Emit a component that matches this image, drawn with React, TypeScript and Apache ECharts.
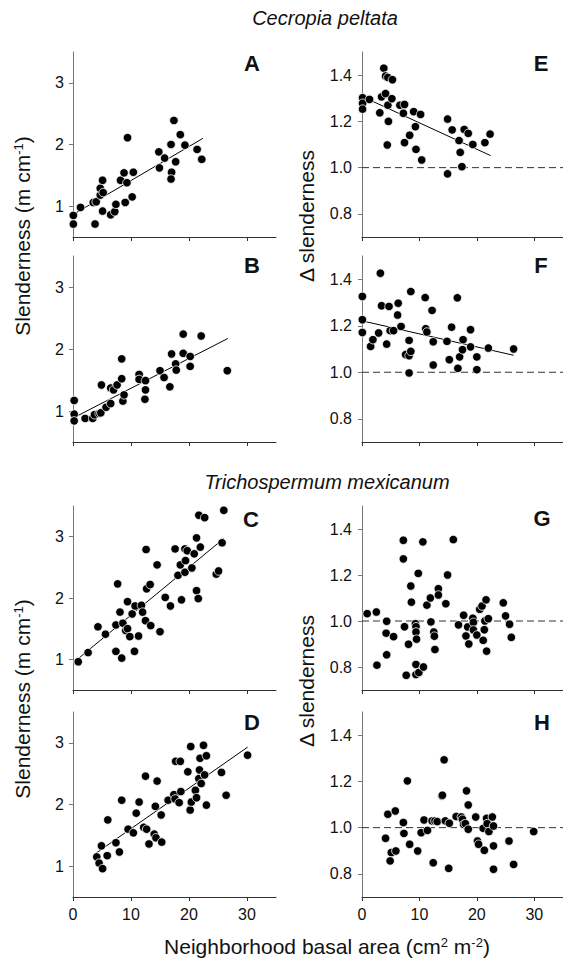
import React, { useEffect, useRef } from 'react';
import * as echarts from 'echarts';

// ---- data ----
const ptsA: number[][] = [
  [0.06, 0.85], [0.06, 0.71], [1.3, 0.98], [3.5, 1.06], [3.8, 0.71], [4.0, 1.07], [4.7, 1.18], [4.7, 1.29],
  [5.1, 1.42], [5.2, 1.22], [5.1, 0.92], [6.5, 0.86], [7.2, 0.91], [7.4, 1.03], [8.2, 1.42], [8.8, 1.54],
  [9.3, 1.38], [9.0, 1.06], [9.4, 2.11], [10.2, 1.15], [10.4, 1.55], [14.8, 1.88], [14.9, 1.62], [15.8, 1.78],
  [16.9, 2.0], [17.0, 1.55], [16.9, 1.44], [17.4, 2.39], [17.7, 1.72], [18.5, 2.16], [19.3, 1.99], [21.4, 1.92],
  [22.2, 1.76],
];
const ptsB: number[][] = [
  [0.2, 1.17], [0.2, 0.95], [0.2, 0.84], [2.1, 0.88], [3.4, 0.88], [3.7, 0.94], [4.5, 0.96], [4.8, 0.97],
  [4.9, 1.42], [5.7, 1.06], [6.5, 1.12], [6.5, 1.37], [7.0, 1.34], [7.6, 1.42], [8.4, 1.84], [8.4, 1.52],
  [8.6, 1.16], [8.8, 1.26], [11.4, 1.59], [11.4, 1.51], [12.5, 1.49], [12.5, 1.34], [12.4, 1.19], [15.0, 1.65],
  [15.7, 1.54], [16.7, 1.39], [17.0, 1.92], [17.7, 1.76], [17.8, 1.66], [19.0, 2.24], [19.0, 1.93], [20.2, 1.88],
  [20.2, 1.72], [22.1, 2.21], [26.6, 1.65],
];
const ptsC: number[][] = [
  [0.9, 0.96], [2.6, 1.11], [4.3, 1.53], [5.6, 1.41], [7.4, 1.13], [7.4, 1.56], [7.7, 2.23], [8.1, 1.77],
  [8.4, 1.02], [8.6, 1.59], [9.1, 1.47], [9.4, 1.5], [9.4, 1.94], [9.8, 1.37], [10.2, 1.74], [10.6, 1.13],
  [10.7, 1.87], [11.3, 1.38], [11.8, 1.88], [12.0, 1.77], [12.5, 1.63], [12.6, 2.79], [12.7, 2.15], [13.3, 2.22],
  [13.4, 1.55], [14.5, 2.54], [15.0, 1.45], [15.9, 2.01], [16.8, 1.87], [17.6, 2.8], [18.1, 2.37], [18.5, 2.54],
  [18.7, 1.97], [19.3, 2.8], [19.4, 2.61], [19.3, 2.42], [19.7, 2.77], [20.5, 2.49], [20.9, 2.72], [21.3, 2.98],
  [21.3, 2.12], [21.6, 1.99], [21.7, 3.35], [21.95, 2.83], [22.7, 3.31], [24.7, 2.39], [25.1, 2.44], [25.7, 2.9],
  [26.0, 3.43],
];
const ptsD: number[][] = [
  [4.1, 1.15], [4.5, 1.05], [4.9, 1.33], [5.1, 0.96], [5.9, 1.17], [6.0, 1.75], [7.4, 1.38], [8.0, 1.23],
  [8.4, 2.07], [9.5, 1.6], [10.4, 1.54], [10.9, 1.86], [11.4, 2.04], [12.2, 1.63], [12.7, 1.6], [12.5, 2.46],
  [13.1, 1.36], [14.0, 1.52], [14.3, 1.46], [14.2, 1.97], [14.5, 2.38], [15.2, 1.83], [15.3, 1.39], [16.4, 2.07],
  [17.4, 2.16], [17.6, 2.09], [17.7, 2.7], [18.3, 2.03], [18.5, 2.7], [18.6, 2.21], [19.8, 2.53], [20.2, 1.91],
  [20.3, 2.94], [20.4, 2.04], [21.1, 2.23], [21.3, 2.11], [21.7, 2.42], [21.8, 2.56], [21.9, 2.75], [22.1, 2.34],
  [22.5, 2.96], [22.7, 2.48], [23.0, 2.79], [23.0, 1.99], [25.6, 2.52], [26.4, 2.15], [30.1, 2.8],
];
const ptsE: number[][] = [
  [0.1, 1.302], [0.1, 1.278], [0.1, 1.253], [1.3, 1.295], [3.4, 1.306], [3.8, 1.43], [4.1, 1.396], [4.5, 1.39],
  [5.3, 1.38], [4.1, 1.32], [3.1, 1.237], [4.5, 1.27], [5.2, 1.298], [4.6, 1.2], [4.4, 1.098], [6.6, 1.27],
  [7.4, 1.273], [7.2, 1.235], [9.0, 1.242], [10.2, 1.23], [7.4, 1.108], [8.3, 1.14], [9.3, 1.177], [9.4, 1.079],
  [10.4, 1.033], [14.9, 1.21], [15.7, 1.163], [14.9, 0.973], [17.8, 1.165], [18.5, 1.148], [16.9, 1.117],
  [17.1, 1.066], [17.4, 1.004], [19.3, 1.1], [21.4, 1.108], [22.3, 1.145],
];
const ptsF: number[][] = [
  [0.06, 1.326], [0.06, 1.226], [0.06, 1.171], [1.5, 1.111], [1.9, 1.14], [2.9, 1.169], [3.2, 1.426], [3.4, 1.286],
  [4.3, 1.121], [4.7, 1.283], [4.9, 1.179], [5.5, 1.179], [6.3, 1.297], [6.2, 1.246], [6.8, 1.197], [8.2, 1.137],
  [7.6, 1.076], [8.2, 1.071], [8.5, 1.09], [8.2, 0.997], [8.5, 1.347], [11.0, 1.321], [11.1, 1.187], [11.3, 1.173],
  [12.2, 1.266], [12.4, 1.131], [12.4, 1.031], [14.8, 1.133], [15.2, 1.054], [15.6, 1.194], [16.6, 1.32],
  [16.7, 1.017], [17.0, 1.066], [17.5, 1.097], [17.6, 1.14], [18.9, 1.109], [18.9, 1.183], [20.0, 1.066],
  [20.0, 1.011], [22.0, 1.104], [26.4, 1.1],
];
const ptsG: number[][] = [
  [0.9, 1.032], [2.5, 1.039], [2.6, 0.808], [4.3, 0.999], [4.2, 0.947], [4.3, 0.853], [5.5, 0.932], [7.2, 1.351],
  [7.2, 1.27], [7.4, 0.975], [7.7, 0.764], [8.1, 0.899], [8.5, 1.152], [8.6, 1.082], [9.3, 0.988], [9.4, 0.975],
  [9.4, 0.952], [9.5, 0.921], [9.4, 0.811], [9.4, 0.767], [9.9, 0.776], [10.7, 0.8], [9.8, 1.207], [10.6, 1.344],
  [11.3, 1.069], [11.9, 1.1], [12.0, 0.996], [12.5, 0.952], [12.6, 0.934], [12.7, 0.876], [13.3, 1.14],
  [13.3, 1.113], [14.6, 1.075], [14.9, 1.2], [15.9, 1.354], [16.8, 0.983], [17.7, 1.025], [18.1, 0.935],
  [18.4, 0.974], [18.6, 0.9], [19.3, 1.012], [19.4, 0.994], [19.4, 0.961], [20.0, 0.939], [20.5, 1.051],
  [20.9, 1.065], [21.1, 0.916], [21.4, 1.0], [22.0, 1.01], [21.3, 0.962], [21.6, 1.092], [21.7, 0.869],
  [24.6, 1.079], [25.0, 1.022], [25.7, 0.986], [26.0, 0.929],
];
const ptsH: number[][] = [
  [4.1, 0.954], [4.5, 1.058], [5.1, 0.892], [4.9, 0.856], [5.8, 1.072], [5.9, 0.899], [7.2, 1.022], [7.3, 0.975],
  [7.9, 1.202], [8.3, 0.928], [9.7, 0.899], [10.3, 0.978], [10.8, 1.033], [11.4, 0.988], [12.2, 1.029],
  [12.7, 1.029], [13.1, 1.026], [12.4, 0.848], [13.9, 1.137], [14.0, 1.14], [14.3, 1.293], [14.5, 1.029],
  [15.2, 1.019], [15.1, 0.824], [16.4, 1.048], [17.3, 1.046], [17.5, 1.036], [17.7, 1.014], [18.0, 1.017],
  [18.2, 1.159], [18.5, 1.098], [18.5, 0.993], [19.8, 1.046], [20.1, 0.942], [20.3, 0.928], [21.1, 0.997],
  [21.3, 0.902], [21.7, 1.04], [21.8, 1.017], [22.1, 0.983], [22.7, 1.046], [22.9, 1.007], [22.9, 0.921],
  [22.9, 0.82], [25.6, 0.942], [26.4, 0.841], [29.9, 0.983],
];

// fitted lines (end points)
const fitA: number[][] = [[0.3, 0.88], [22.4, 2.1]];
const fitB: number[][] = [[0.5, 0.91], [26.7, 2.17]];
const fitC: number[][] = [[0.5, 0.98], [26.0, 2.97]];
const fitD: number[][] = [[3.8, 1.2], [30.1, 2.93]];
const fitE: number[][] = [[1.3, 1.293], [22.4, 1.052]];
const fitF: number[][] = [[0.2, 1.22], [26.4, 1.073]];
const refLine: number[][] = [[0, 1.0], [35, 1.0]];

const xTicks = [0, 10, 20, 30];
const slenderTicks = [1, 2, 3];
const deltaTicks = [0.8, 1.0, 1.2, 1.4];

const FONT = '"Liberation Sans", Arial, Helvetica, sans-serif';

type Panel = { id: string; col: number; row: number; pts: number[][]; fit: number[][] | null; delta: boolean };
const panels: Panel[] = [
  { id: 'A', col: 0, row: 0, pts: ptsA, fit: fitA, delta: false },
  { id: 'B', col: 0, row: 1, pts: ptsB, fit: fitB, delta: false },
  { id: 'C', col: 0, row: 2, pts: ptsC, fit: fitC, delta: false },
  { id: 'D', col: 0, row: 3, pts: ptsD, fit: fitD, delta: false },
  { id: 'E', col: 1, row: 0, pts: ptsE, fit: fitE, delta: true },
  { id: 'F', col: 1, row: 1, pts: ptsF, fit: fitF, delta: true },
  { id: 'G', col: 1, row: 2, pts: ptsG, fit: null, delta: true },
  { id: 'H', col: 1, row: 3, pts: ptsH, fit: null, delta: true },
];

const rowTops = [52, 256, 506, 712];
const rowHeights = [185, 186, 184, 185];
const colLefts = [73, 362];
const gridW = 203;
const letterPos: Record<string, [number, number]> = {
  A: [252, 63], B: [252, 265], C: [251, 519], D: [252, 722],
  E: [541, 63], F: [541, 265], G: [542, 518], H: [542, 722],
};

function buildOption() {
  const grid: any[] = [];
  const xAxis: any[] = [];
  const yAxis: any[] = [];
  const series: any[] = [];
  panels.forEach((p, i) => {
    grid.push({ left: colLefts[p.col], top: rowTops[p.row], width: gridW, height: rowHeights[p.row] });
    xAxis.push({
      type: 'value', gridIndex: i, min: 0, max: 35,
      axisLine: { show: true, onZero: false, lineStyle: { color: '#333', width: 1 } },
      axisTick: { show: true, length: 4, customValues: xTicks, lineStyle: { color: '#333' } },
      axisLabel: {
        show: p.row === 3, customValues: xTicks, fontSize: 16, color: '#111', margin: 9, fontFamily: FONT,
      },
      splitLine: { show: false },
    });
    const ticks = p.delta ? deltaTicks : slenderTicks;
    yAxis.push({
      type: 'value', gridIndex: i,
      min: p.delta ? 0.7 : 0.5, max: p.delta ? 1.5 : 3.5,
      axisLine: { show: true, onZero: false, lineStyle: { color: '#777', width: 1 } },
      axisTick: { show: true, length: 4, customValues: ticks, lineStyle: { color: '#777' } },
      axisLabel: {
        customValues: ticks, fontSize: 16, color: '#111', margin: p.delta ? 10 : 9, fontFamily: FONT,
        formatter: (v: number) => (p.delta ? v.toFixed(1) : String(v)),
      },
      splitLine: { show: false },
    });
    if (p.delta) {
      series.push({
        type: 'line', xAxisIndex: i, yAxisIndex: i, data: refLine, symbol: 'none', silent: true, z: 1,
        lineStyle: { color: '#333', width: 1, type: [7, 4] },
      });
    }
    series.push({
      type: 'scatter', xAxisIndex: i, yAxisIndex: i, data: p.pts, symbolSize: 8.5, z: 3, silent: true,
      itemStyle: { color: '#000', borderColor: '#fff', borderWidth: 0.8, opacity: 1 },
    });
    if (p.fit) {
      series.push({
        type: 'line', xAxisIndex: i, yAxisIndex: i, data: p.fit, symbol: 'none', silent: true, z: 2,
        lineStyle: { color: '#000', width: 1 },
      });
    }
  });

  const graphic: any[] = [];
  panels.forEach((p) => {
    const [x, y] = letterPos[p.id];
    graphic.push({
      type: 'text', x, y, silent: true,
      style: { text: p.id, fontSize: 22, fontWeight: 'bold', fill: '#111', fontFamily: FONT, align: 'center', verticalAlign: 'middle' },
    });
  });
  graphic.push({
    type: 'text', x: 325, y: 18,
    style: { text: 'Cecropia peltata', fontSize: 20, fontStyle: 'italic', fill: '#111', fontFamily: FONT, align: 'center', verticalAlign: 'middle' },
  });
  graphic.push({
    type: 'text', x: 327, y: 482,
    style: { text: 'Trichospermum mexicanum', fontSize: 20, fontStyle: 'italic', fill: '#111', fontFamily: FONT, align: 'center', verticalAlign: 'middle' },
  });
  const richTitle = {
    a: { fontSize: 21, fontFamily: FONT, fill: '#111' },
    s: { fontSize: 13, fontFamily: FONT, fill: '#111', verticalAlign: 'top' },
  };
  [236, 699].forEach((cy) => {
    graphic.push({
      type: 'text', x: 22, y: cy, rotation: Math.PI / 2,
      style: { text: '{a|Slenderness (m cm}{s|-1}{a|)}', rich: richTitle, align: 'center', verticalAlign: 'middle', fill: '#111' },
    });
  });
  [216, 681].forEach((cy) => {
    graphic.push({
      type: 'text', x: 306, y: cy, rotation: Math.PI / 2,
      style: { text: 'Δ slenderness', fontSize: 21, fontFamily: FONT, fill: '#111', align: 'center', verticalAlign: 'middle' },
    });
  });
  graphic.push({
    type: 'text', x: 327, y: 946,
    style: { text: '{a|Neighborhood basal area (cm}{s|2}{a| m}{s|-2}{a|)}', rich: richTitle, align: 'center', verticalAlign: 'middle', fill: '#111' },
  });

  return { animation: false, backgroundColor: '#fff', grid, xAxis, yAxis, series, graphic };
}

export default function App() {
  const ref = useRef<HTMLDivElement>(null);
  useEffect(() => {
    if (!ref.current) return;
    const chart = echarts.init(ref.current, undefined, { renderer: 'svg' });
    chart.setOption(buildOption() as any);
    return () => chart.dispose();
  }, []);
  return <div ref={ref} style={{ position: 'absolute', left: 0, top: 0, width: 563, height: 961, background: '#fff' }} />;
}
